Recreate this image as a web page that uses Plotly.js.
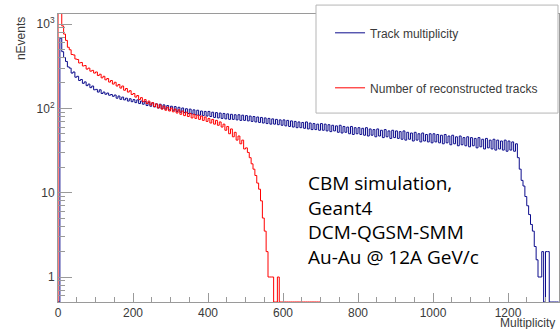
<!DOCTYPE html>
<html><head><meta charset="utf-8">
<script src="https://cdn.plot.ly/plotly-3.0.1.min.js"></script>
<style>html,body{margin:0;padding:0;background:#fff}#chart{width:560px;height:329px}</style>
</head><body><div id="chart"></div>
<script>
// ---------- data ----------
const binWidth = 5;            // multiplicity units per plotted bin
const seriesNames = ['Track multiplicity', 'Number of reconstructed tracks'];
// nEvents per bin, bins start at 0, 5, 10, ...
const trackMultiplicity = [
  0, 680, 470, 400, 360, 310, 300, 262, 270, 234, 240, 214, 220, 198, 206, 186, 194, 176, 184, 166,
  168, 156, 166, 150, 156, 147, 152, 143, 146, 139, 144, 132, 140, 128, 136, 126, 132, 122, 130, 120,
  127, 117, 126, 114, 122, 112, 121, 108, 118, 106, 116, 104, 113, 101, 112, 99, 110, 98, 108, 96,
  106, 95, 105, 92, 103, 90, 101, 89, 99, 87, 98, 86, 96, 84, 95, 83, 93, 82, 92, 81,
  92, 80, 90, 78, 89, 77, 88, 76, 87, 75, 86, 74, 85, 74, 84, 73, 84, 72, 83, 72,
  82, 71, 81, 70, 80, 69, 79, 68, 78, 67, 77, 66, 76, 65, 75, 65, 74, 64, 73, 63,
  73, 62, 72, 61, 71, 60, 70, 59, 69, 59, 68, 58, 69, 57, 67, 56, 66, 56, 65, 55,
  66, 55, 65, 54, 64, 53, 63, 54, 62, 52, 63, 51, 61, 52, 60, 50, 61, 49, 59, 50,
  59, 49, 58, 48, 59, 47, 57, 48, 56, 46, 57, 47, 55, 45, 56, 46, 54, 44, 55, 45,
  54, 44, 53, 43, 54, 42, 52, 43, 51, 41, 52, 42, 50, 40, 51, 41, 49, 40, 50, 39,
  50, 40, 49, 39, 48, 38, 49, 39, 47, 37, 48, 38, 46, 36, 47, 37, 45, 36, 46, 35,
  45, 36, 44, 34, 45, 35, 43, 33, 44, 34, 42, 33, 43, 32, 42, 33, 41, 32, 42, 31,
  41, 32, 40, 31, 38, 26, 19, 14, 12, 9, 7, 5.5, 4.2, 3.5, 2.3, 1.6, 1, 1, 2, 0,
  2, 2, 0, 0, 0, 0, 0
];
const reconstructedTracks = [
  2000, 1600, 950, 760, 640, 530, 495, 435, 430, 385, 380, 345, 350, 318, 322, 292, 300, 276, 282, 262,
  270, 245, 254, 230, 240, 218, 226, 205, 214, 194, 204, 184, 192, 174, 184, 164, 172, 156, 162, 146,
  150, 136, 142, 127, 134, 120, 127, 114, 122, 110, 117, 105, 113, 101, 110, 98, 106, 95, 103, 93,
  101, 91, 98, 88, 96, 85, 93, 82, 90, 80, 87, 77, 85, 76, 83, 74, 81, 72, 79, 70,
  76, 67, 74, 65, 72, 63, 69, 60, 65, 55, 61, 50, 57, 46, 52, 42, 47, 38, 42, 33,
  34, 30, 26, 22, 19, 16, 13, 11, 8, 5, 3.5, 2, 1, 1, 1, 0, 0, 1, 0, 0,
  0, 0, 0, 0, 0, 0, 0, 0, 0, 0, 0, 0, 0, 0, 0, 0, 0, 0, 0, 0
];
const yTickValues = [1, 10, 100, 1000];
const yTickLabels = ['1', '10', '10<sup>2</sup>', '10<sup>3</sup>'];
const annotationLines = ['CBM simulation,', 'Geant4', 'DCM-QGSM-SMM', 'Au-Au @ 12A GeV/c'];
const xTitle = 'Multiplicity';
const yTitle = 'nEvents';

// ---------- styling / layout ----------
const colors = ['#0c0c8c', '#ff0000'];
const xRange = [0, 1336];
const yRangeLog = [-0.2965, 3.119];
const axisFloor = Math.pow(10, yRangeLog[0]);   // empty bins are drawn on the frame bottom

function stepTrace(values, name, color, group) {
  const x = [0], y = [axisFloor];
  values.forEach((v, i) => { x.push(i * binWidth); y.push(v > 0 ? v : axisFloor); });
  const last = values[values.length - 1];
  x.push(values.length * binWidth); y.push(last > 0 ? last : axisFloor);
  return {
    type: 'scatter', mode: 'lines', x: x, y: y, name: name,
    line: {shape: 'hv', color: color, width: 1}, legendgroup: group, cliponaxis: true
  };
}

// minor ticks on log axis (2..9 of each decade)
const yMinor = [];
for (let d = -1; d <= 3; d++) for (let k = 2; k <= 9; k++) yMinor.push(k * Math.pow(10, d));

const axisGray = '#9a9a9a';
const textGray = '#3a3a3a';
const labelFont = {family: 'Liberation Sans, Arial, sans-serif', size: 12, color: textGray};

const data = [
  stepTrace(trackMultiplicity, seriesNames[0], colors[0], 'g1'),
  stepTrace(reconstructedTracks, seriesNames[1], colors[1], 'g2')
];

const layout = {
  width: 560, height: 329,
  margin: {l: 58, r: 1, t: 14, b: 27, pad: 0},
  paper_bgcolor: '#fff', plot_bgcolor: '#fff',
  showlegend: true,
  legend: {
    x: 0.543, xanchor: 'left', y: 0.985, yanchor: 'top',
    bgcolor: 'rgba(0,0,0,0)', borderwidth: 0,
    font: labelFont, traceorder: 'grouped', tracegroupgap: 36
  },
  xaxis: {
    range: xRange, showgrid: false, zeroline: false,
    showline: true, linecolor: axisGray, linewidth: 1, mirror: true,
    ticks: 'inside', ticklen: 9, tickcolor: axisGray, tickwidth: 1,
    dtick: 200, tick0: 0, tickfont: labelFont,
    minor: {ticks: 'inside', ticklen: 5, dtick: 50, tick0: 0, tickcolor: axisGray, showgrid: false}
  },
  yaxis: {
    type: 'log', range: yRangeLog, showgrid: false, zeroline: false,
    showline: true, linecolor: axisGray, linewidth: 1, mirror: true,
    ticks: 'inside', ticklen: 14, tickcolor: axisGray, tickwidth: 1,
    tickmode: 'array', tickvals: yTickValues, ticktext: yTickLabels, tickfont: labelFont,
    minor: {ticks: 'inside', ticklen: 7, tickmode: 'array', tickvals: yMinor, tickcolor: axisGray, showgrid: false}
  },
  shapes: [{
    type: 'rect', xref: 'paper', yref: 'paper', layer: 'above',
    x0: 0.515, x1: 0.998, y0: 0.656, y1: 1.031,
    fillcolor: '#ffffff', line: {color: '#b5b5b5', width: 1}
  }],
  annotations: [
    {text: annotationLines.join('<br>'), xref: 'paper', yref: 'paper', x: 0.495, y: 0.285,
     xanchor: 'left', yanchor: 'middle', align: 'left', showarrow: false,
     font: {family: 'Open Sans, sans-serif', size: 19, color: '#000'}},
    {text: xTitle, xref: 'paper', yref: 'paper', x: 0.996, y: -0.072, xanchor: 'right', yanchor: 'middle',
     showarrow: false, font: labelFont},
    {text: yTitle, xref: 'paper', yref: 'paper', x: -0.075, y: 0.996, xanchor: 'center', yanchor: 'top',
     textangle: -90, showarrow: false, font: labelFont}
  ]
};

Plotly.newPlot('chart', data, layout, {staticPlot: true, displayModeBar: false});
</script>
</body></html>
